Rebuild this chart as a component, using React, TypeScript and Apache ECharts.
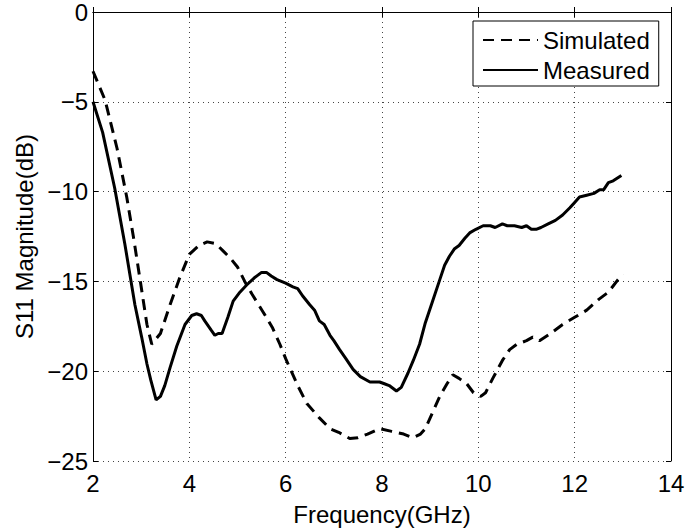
import React, { useEffect, useRef } from "react";
import * as echarts from "echarts";

const simX = [2.0, 2.25, 2.5, 2.7, 2.85, 3.0, 3.12, 3.22, 3.4, 3.6, 3.8, 4.0, 4.2, 4.37, 4.55, 4.7, 4.85, 5.0, 5.15, 5.3, 5.46, 5.6, 5.73, 5.88, 6.0, 6.1, 6.25, 6.44, 6.7, 6.92, 7.1, 7.33, 7.5, 7.7, 7.95, 8.2, 8.45, 8.64, 8.8, 8.9, 9.05, 9.2, 9.35, 9.47, 9.6, 9.76, 9.9, 10.05, 10.15, 10.3, 10.5, 10.65, 10.8, 11.0, 11.13, 11.27, 11.5, 11.75, 12.0, 12.25, 12.5, 12.7, 12.9, 13.0];
const simY = [-3.3, -4.9, -7.6, -10.3, -12.7, -15.3, -17.4, -18.5, -17.9, -16.3, -14.8, -13.5, -13.0, -12.8, -12.9, -13.3, -13.7, -14.2, -15.0, -15.7, -16.4, -17.0, -17.6, -18.5, -19.3, -19.9, -20.8, -21.8, -22.6, -23.2, -23.4, -23.75, -23.7, -23.5, -23.2, -23.35, -23.5, -23.7, -23.5, -23.2, -22.3, -21.4, -20.7, -20.2, -20.4, -20.7, -21.2, -21.4, -21.2, -20.4, -19.4, -18.8, -18.5, -18.3, -18.1, -18.3, -17.9, -17.4, -17.0, -16.6, -16.0, -15.6, -14.9, -14.6];

const measX = [2.0, 2.2, 2.45, 2.66, 2.87, 3.01, 3.12, 3.2, 3.31, 3.4, 3.49, 3.6, 3.74, 3.91, 4.05, 4.15, 4.25, 4.32, 4.45, 4.53, 4.6, 4.68, 4.8, 4.91, 5.05, 5.19, 5.35, 5.5, 5.6, 5.7, 5.82, 6.0, 6.15, 6.25, 6.35, 6.5, 6.6, 6.7, 6.8, 6.92, 7.0, 7.12, 7.25, 7.4, 7.55, 7.75, 7.85, 7.95, 8.05, 8.15, 8.3, 8.4, 8.54, 8.65, 8.78, 8.9, 9.05, 9.2, 9.3, 9.4, 9.5, 9.6, 9.72, 9.82, 9.95, 10.1, 10.25, 10.35, 10.5, 10.6, 10.75, 10.9, 11.0, 11.1, 11.2, 11.3, 11.45, 11.6, 11.75, 11.9, 12.0, 12.1, 12.25, 12.4, 12.52, 12.6, 12.7, 12.8, 12.97];
const measY = [-5.0, -6.7, -9.8, -12.9, -16.3, -18.1, -19.6, -20.5, -21.6, -21.4, -20.8, -19.8, -18.6, -17.4, -16.9, -16.8, -16.9, -17.2, -17.7, -18.0, -17.9, -17.9, -17.0, -16.1, -15.6, -15.2, -14.8, -14.5, -14.5, -14.7, -14.9, -15.1, -15.3, -15.4, -15.8, -16.3, -16.6, -17.2, -17.4, -18.0, -18.3, -18.8, -19.3, -19.9, -20.3, -20.6, -20.6, -20.6, -20.7, -20.8, -21.1, -20.9, -20.1, -19.4, -18.5, -17.3, -16.1, -14.9, -14.1, -13.6, -13.2, -13.0, -12.6, -12.3, -12.1, -11.9, -11.9, -12.0, -11.8, -11.9, -11.9, -12.0, -11.9, -12.1, -12.1, -12.0, -11.8, -11.6, -11.3, -10.9, -10.6, -10.3, -10.2, -10.1, -9.9, -9.9, -9.5, -9.4, -9.1];

const seriesNames = ["Simulated", "Measured"];
const xName = "Frequency(GHz)";
const yName = "S11 Magnitude(dB)";

const FONT = "'Liberation Sans', Arial, Helvetica, sans-serif";

export default function App() {
  const ref = useRef<HTMLDivElement>(null);
  useEffect(() => {
    if (!ref.current) return;
    const chart = echarts.init(ref.current, null, { renderer: "svg" });
    const fmt = (v: number) => String(v).replace("-", "\u2212");
    const tickInside = { show: true, inside: true, length: 5, lineStyle: { color: "#000", width: 1 } };
    const axisLine = { show: true, lineStyle: { color: "#000", width: 1 } };
    const split = { show: true, lineStyle: { color: "#444", width: 1, type: [1, 4] as any } };
    chart.setOption({
      animation: false,
      backgroundColor: "#fff",
      textStyle: { fontFamily: FONT },
      grid: { left: 93, right: 17, top: 11, bottom: 65 },
      legend: {
        data: seriesNames,
        orient: "vertical",
        left: 473,
        top: 21,
        itemWidth: 55,
        itemHeight: 14,
        itemGap: 6,
        padding: [7, 9, 4, 9],
        borderColor: "#000",
        borderWidth: 1,
        borderRadius: 0,
        backgroundColor: "#fff",
        itemStyle: { opacity: 0 },
        textStyle: { fontSize: 24, color: "#000", fontFamily: FONT },
      },
      xAxis: [
        {
          type: "value",
          min: 2,
          max: 14,
          interval: 2,
          name: xName,
          nameLocation: "middle",
          nameGap: 41,
          nameTextStyle: { fontSize: 24, color: "#000", fontFamily: FONT },
          axisLine,
          axisTick: tickInside,
          axisLabel: { fontSize: 24, color: "#000", margin: 10, fontFamily: FONT },
          splitLine: split,
        },
        {
          type: "value",
          position: "top",
          min: 2,
          max: 14,
          interval: 2,
          axisLine,
          axisTick: tickInside,
          axisLabel: { show: false },
          splitLine: { show: false },
        },
      ],
      yAxis: [
        {
          type: "value",
          min: -25,
          max: 0,
          interval: 5,
          name: yName,
          nameLocation: "middle",
          nameGap: 56,
          nameRotate: 90,
          nameTextStyle: { fontSize: 24, color: "#000", fontFamily: FONT },
          axisLine,
          axisTick: tickInside,
          axisLabel: { fontSize: 24, color: "#000", margin: 5, formatter: fmt, fontFamily: FONT },
          splitLine: split,
        },
        {
          type: "value",
          position: "right",
          min: -25,
          max: 0,
          interval: 5,
          axisLine,
          axisTick: tickInside,
          axisLabel: { show: false },
          splitLine: { show: false },
        },
      ],
      series: [
        {
          name: seriesNames[0],
          type: "line",
          symbol: "none",
          data: simX.map((x, i) => [x, simY[i]]),
          lineStyle: { color: "#000", width: 3, type: [11, 7] },
          itemStyle: { color: "#000" },
        },
        {
          name: seriesNames[1],
          type: "line",
          symbol: "none",
          data: measX.map((x, i) => [x, measY[i]]),
          lineStyle: { color: "#000", width: 3, type: "solid" },
          itemStyle: { color: "#000" },
        },
      ],
    });
    return () => chart.dispose();
  }, []);
  return <div ref={ref} style={{ width: 688, height: 531, position: "absolute", left: 0, top: 0 }} />;
}
